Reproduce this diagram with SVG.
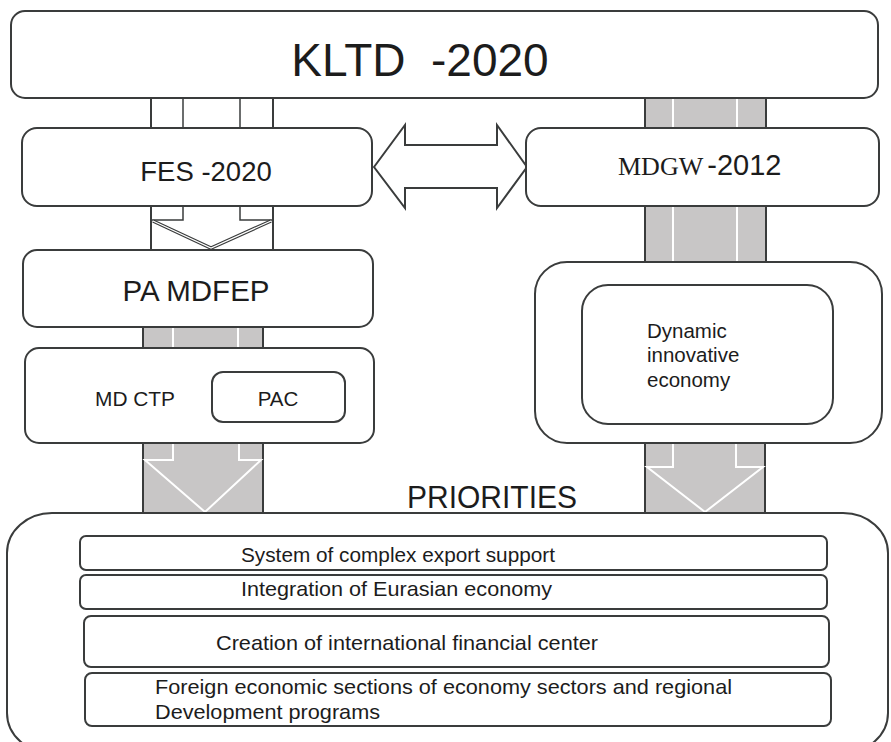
<svg xmlns="http://www.w3.org/2000/svg" width="891" height="742" viewBox="0 0 891 742">
  <style>
    .box { fill: #ffffff; stroke: #3a3c3c; stroke-width: 2; }
    .band { fill: #c8c6c6; stroke: #3a3c3c; stroke-width: 2; }
    .hollow { fill: #ffffff; stroke: #3a3c3c; stroke-width: 2; }
    .wline { fill: none; stroke: #ffffff; stroke-width: 2; }
    .dline { fill: none; stroke: #3a3c3c; stroke-width: 1.5; }
    .t { font-family: "Liberation Sans", Arial, sans-serif; fill: #1c1c1c; }
    .serif { font-family: "Liberation Serif", "Times New Roman", serif; fill: #1c1c1c; }
  </style>

  <!-- connectors: bands and arrows between the blocks -->
  <g id="connectors">
    <!-- left column: KLTD to FES (hollow band) -->
    <rect class="hollow" x="151" y="97" width="122" height="32"/>
    <line class="dline" x1="183" y1="97" x2="183" y2="129"/>
    <line class="dline" x1="240" y1="97" x2="240" y2="129"/>

    <!-- left column: FES to PA MDFEP (hollow arrow) -->
    <rect class="hollow" x="151" y="205" width="122" height="45"/>
    <polyline class="dline" points="183,205 183,220 151,220"/>
    <polyline class="dline" points="240,205 240,220 272,220"/>
    <polyline points="153,221 211,248 271,221" fill="none" stroke="#3a3c3c" stroke-width="3.5"/>
    <polyline points="153,221 211,248 271,221" fill="none" stroke="#ffffff" stroke-width="1.2"/>

    <!-- left column: PA MDFEP to MD CTP (grey band) -->
    <rect class="band" x="143" y="326" width="120" height="23"/>
    <line class="wline" x1="173" y1="327" x2="173" y2="348"/>
    <line class="wline" x1="238" y1="327" x2="238" y2="348"/>

    <!-- left column: MD CTP down to priorities (grey arrow) -->
    <rect class="band" x="143" y="442" width="120" height="72"/>
    <polyline class="wline" points="173,444 173,460 145,460 205,512 261,460 239,460 239,444"/>

    <!-- right column: KLTD to MDGW (grey band) -->
    <rect class="band" x="645" y="97" width="121" height="32"/>
    <line class="wline" x1="673" y1="98" x2="673" y2="128"/>
    <line class="wline" x1="737" y1="98" x2="737" y2="128"/>

    <!-- right column: MDGW to outer block (grey band) -->
    <rect class="band" x="645" y="205" width="121" height="58"/>
    <line class="wline" x1="673" y1="206" x2="673" y2="262"/>
    <line class="wline" x1="737" y1="206" x2="737" y2="262"/>

    <!-- right column: down to priorities (grey arrow) -->
    <rect class="band" x="645" y="442" width="120" height="72"/>
    <polyline class="wline" points="673,444 673,467 647,467 705,512 763,467 736,467 736,444"/>

    <!-- two-way arrow between FES and MDGW -->
    <polygon points="374,167 405,125 405,145 497,145 497,125 527,167 497,208 497,188 405,188 405,208"
             fill="#ffffff" stroke="#3a3c3c" stroke-width="2" stroke-linejoin="miter"/>
  </g>

  <!-- top block -->
  <g id="kltd">
    <rect class="box" x="11" y="11" width="867" height="87" rx="14"/>
    <text class="t" x="420" y="76" font-size="46" text-anchor="middle" xml:space="preserve">KLTD  -2020</text>
  </g>

  <g id="fes">
    <rect class="box" x="22" y="128" width="350" height="78" rx="15"/>
    <text class="t" x="206" y="181" font-size="27.5" text-anchor="middle">FES -2020</text>
  </g>

  <g id="mdgw">
    <rect class="box" x="526" y="128" width="353" height="78" rx="15"/>
    <text x="618" y="175"><tspan class="serif" font-size="26">MDGW</tspan><tspan class="t" font-size="29" dx="4">-2012</tspan></text>
  </g>

  <g id="pa-mdfep">
    <rect class="box" x="23" y="250" width="350" height="77" rx="14"/>
    <text class="t" x="196" y="301" font-size="29.5" text-anchor="middle">PA MDFEP</text>
  </g>

  <g id="md-ctp">
    <rect class="box" x="25" y="348" width="349" height="95" rx="14"/>
    <text class="t" x="95" y="406" font-size="20.5" textLength="80" lengthAdjust="spacingAndGlyphs">MD CTP</text>
  </g>

  <g id="pac">
    <rect class="box" x="212" y="372" width="133" height="50" rx="11" stroke-width="1.5"/>
    <text class="t" x="278" y="406" font-size="20.5" text-anchor="middle">PAC</text>
  </g>

  <g id="mdgw-outer">
    <rect class="box" x="535" y="262" width="347" height="181" rx="32"/>
  </g>

  <g id="dynamic-economy">
    <rect class="box" x="582" y="285" width="251" height="139" rx="26"/>
    <text class="t" x="647" y="338" font-size="20.5">
      <tspan x="647" y="338">Dynamic</tspan>
      <tspan x="647" y="362">innovative</tspan>
      <tspan x="647" y="387">economy</tspan>
    </text>
  </g>

  <!-- priorities -->
  <g id="priorities">
    <rect class="box" x="7" y="513" width="881" height="240" rx="45" ry="40"/>
    <text class="t" x="407" y="508" font-size="32" textLength="170" lengthAdjust="spacingAndGlyphs">PRIORITIES</text>
  </g>

  <g id="priority-export">
    <rect class="box" x="80" y="536" width="747" height="34" rx="6" stroke-width="2.5"/>
    <text class="t" x="241" y="562" font-size="21" textLength="314" lengthAdjust="spacingAndGlyphs">System of complex export support</text>
  </g>

  <g id="priority-eurasian">
    <rect class="box" x="80" y="575" width="747" height="34" rx="6" stroke-width="1.5"/>
    <text class="t" x="241" y="596" font-size="21" textLength="311" lengthAdjust="spacingAndGlyphs">Integration of Eurasian economy</text>
  </g>

  <g id="priority-financial">
    <rect class="box" x="84" y="616" width="745" height="51" rx="7" stroke-width="1.5"/>
    <text class="t" x="216" y="650" font-size="21" textLength="382" lengthAdjust="spacingAndGlyphs">Creation of international financial center</text>
  </g>

  <g id="priority-foreign">
    <rect class="box" x="85" y="673" width="746" height="53" rx="7" stroke-width="1.5"/>
    <text class="t" x="155" y="694" font-size="21" textLength="577" lengthAdjust="spacingAndGlyphs">Foreign economic sections of economy sectors and regional</text>
    <text class="t" x="155" y="719" font-size="21" textLength="225" lengthAdjust="spacingAndGlyphs">Development programs</text>
  </g>
</svg>
